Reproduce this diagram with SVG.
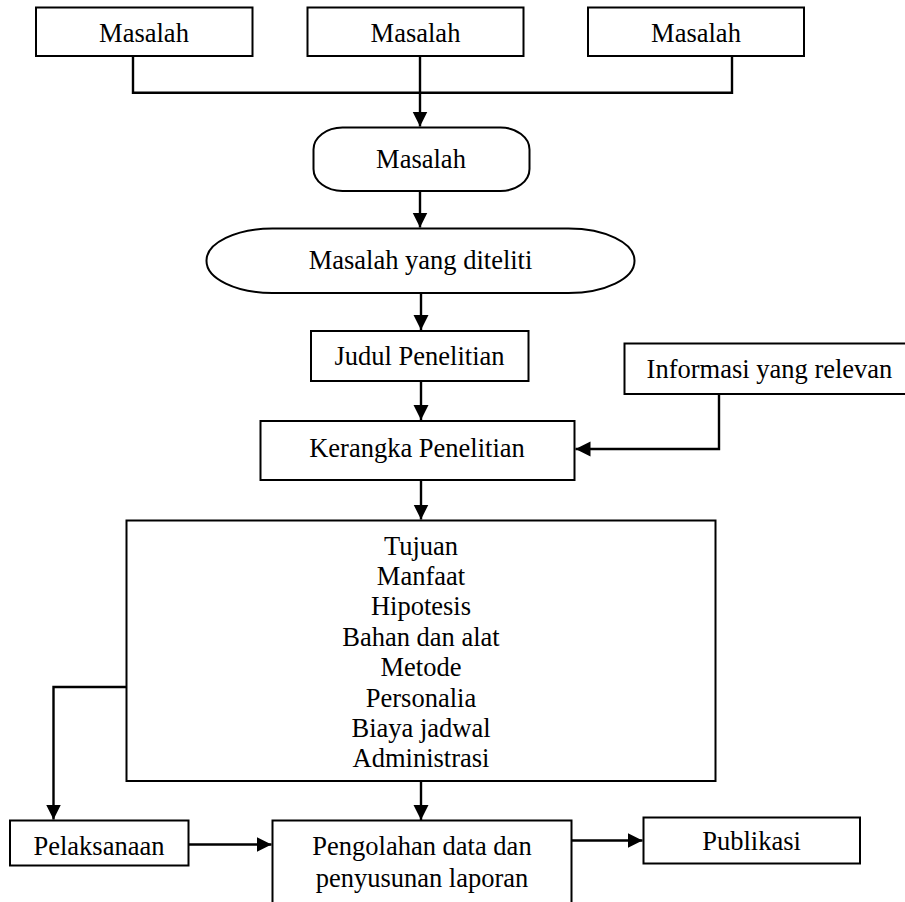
<svg xmlns="http://www.w3.org/2000/svg" width="905" height="902" viewBox="0 0 905 902">
<style>
.box{fill:#fff;stroke:#000;stroke-width:2}
.t{font-family:"Liberation Serif","Times New Roman",serif;font-size:26.5px;fill:#000;text-anchor:middle}
.c{fill:none;stroke:#000;stroke-width:2.4}
</style>
<defs>
<marker id="ah" markerUnits="userSpaceOnUse" markerWidth="16" markerHeight="16" viewBox="0 0 16 16" refX="15" refY="8" orient="auto">
<path d="M0,0.5 L15,8 L0,15.5 Z" fill="#000"/>
</marker>
</defs>
<rect width="905" height="902" fill="#fff"/>
<g id="connectors">
<path class="c" d="M133,56 V92.7 H732 V56"/>
<path class="c" d="M420,56 V126.5" marker-end="url(#ah)"/>
<path class="c" d="M420,191 V227.5" marker-end="url(#ah)"/>
<path class="c" d="M421,293 V330" marker-end="url(#ah)"/>
<path class="c" d="M421,381 V420" marker-end="url(#ah)"/>
<path class="c" d="M719,394 V449 H575.5" marker-end="url(#ah)"/>
<path class="c" d="M421,480 V519.5" marker-end="url(#ah)"/>
<path class="c" d="M126,687 H53.5 V819.5" marker-end="url(#ah)"/>
<path class="c" d="M421,781 V820" marker-end="url(#ah)"/>
<path class="c" d="M189,844.5 H271.5" marker-end="url(#ah)"/>
<path class="c" d="M572,840.5 H642.5" marker-end="url(#ah)"/>
</g>
<g id="masalah1"><rect class="box" x="36" y="7.5" width="216.5" height="48.5"/><text class="t" x="144" y="42">Masalah</text></g>
<g id="masalah2"><rect class="box" x="307.5" y="7.5" width="216" height="48.5"/><text class="t" x="415.5" y="42">Masalah</text></g>
<g id="masalah3"><rect class="box" x="588" y="7.5" width="216" height="48.5"/><text class="t" x="696" y="42">Masalah</text></g>
<g id="masalah-terminal"><rect class="box" x="313.5" y="127.5" width="216" height="63.5" rx="29" ry="22"/><text class="t" x="421" y="168">Masalah</text></g>
<g id="masalah-diteliti"><rect class="box" x="206.5" y="228.5" width="428" height="64.5" rx="66" ry="32"/><text class="t" x="420.5" y="268.5">Masalah yang diteliti</text></g>
<g id="judul"><rect class="box" x="311" y="331" width="217.5" height="50"/><text class="t" x="419.5" y="365">Judul Penelitian</text></g>
<g id="informasi"><rect class="box" x="624.5" y="343.5" width="290" height="50.5"/><text class="t" x="769.5" y="377.5">Informasi yang relevan</text></g>
<g id="kerangka"><rect class="box" x="260.5" y="421" width="314" height="59"/><text class="t" x="417" y="456.5">Kerangka Penelitian</text></g>
<g id="rencana"><rect class="box" x="126.5" y="520.5" width="589" height="260.5"/>
<text class="t" x="421" y="555">Tujuan</text>
<text class="t" x="421" y="585">Manfaat</text>
<text class="t" x="421" y="615">Hipotesis</text>
<text class="t" x="421" y="645.5">Bahan dan alat</text>
<text class="t" x="421" y="676">Metode</text>
<text class="t" x="421" y="706.5">Personalia</text>
<text class="t" x="421" y="737">Biaya jadwal</text>
<text class="t" x="421" y="767">Administrasi</text>
</g>
<g id="pelaksanaan"><rect class="box" x="10" y="820.5" width="178.5" height="45"/><text class="t" x="99" y="855">Pelaksanaan</text></g>
<g id="pengolahan"><rect class="box" x="272.5" y="820.5" width="299" height="100"/><text class="t" x="422" y="855">Pengolahan data dan</text><text class="t" x="422" y="887">penyusunan laporan</text></g>
<g id="publikasi"><rect class="box" x="643.5" y="817.5" width="216.5" height="46"/><text class="t" x="751.5" y="850">Publikasi</text></g>
</svg>
